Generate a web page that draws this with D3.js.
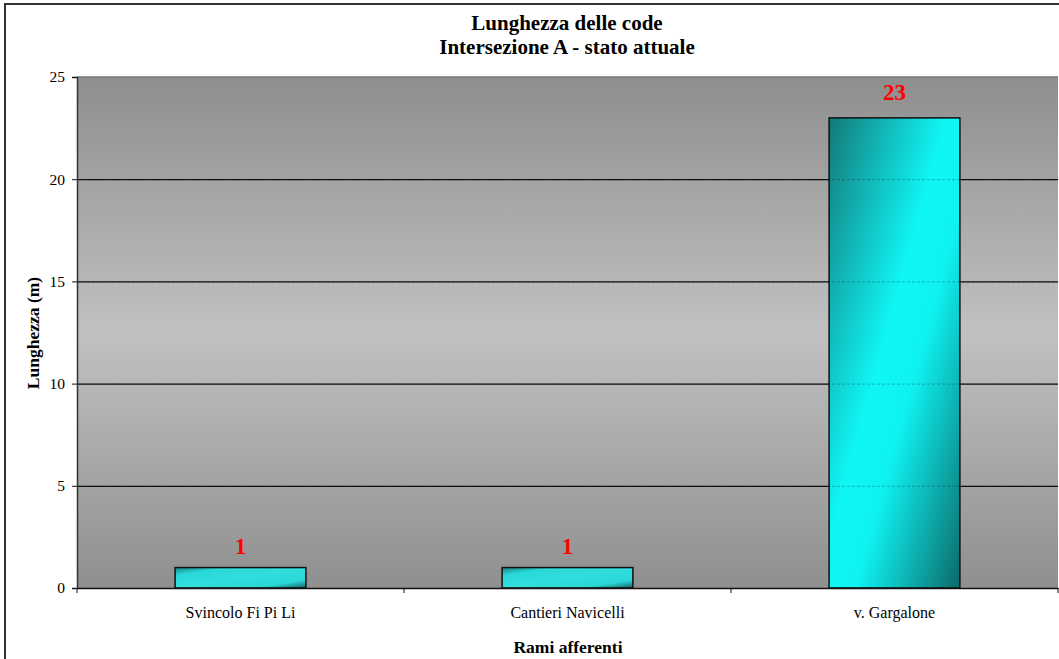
<!DOCTYPE html>
<html><head><meta charset="utf-8">
<script src="https://cdn.jsdelivr.net/npm/d3@7"></script>
<style>body{margin:0;background:#fff}svg{display:block}</style>
</head><body>
<svg id="chart" width="1059" height="659"></svg>
<script>
const categories = ["Svincolo Fi Pi Li", "Cantieri Navicelli", "v. Gargalone"];
const values = [1, 1, 23];
const yTicks = [0, 5, 10, 15, 20, 25];
const titleLines = ["Lunghezza delle code", "Intersezione A - stato attuale"];
const xTitle = "Rami afferenti";
const yTitle = "Lunghezza (m)";

const svg = d3.select("#chart");
const serif = "'Liberation Serif','Times New Roman',serif";
const m = {left: 77, right: 1058, top: 77, bottom: 588};

const defs = svg.append("defs");
const bg = defs.append("linearGradient").attr("id","bg").attr("x1",0).attr("y1",0).attr("x2",0).attr("y2",1);
[[0,"#8e8e8e"],[0.5,"#c1c1c1"],[1,"#8f8f8f"]].forEach(s=>bg.append("stop").attr("offset",s[0]).attr("stop-color",s[1]));
const bg2 = defs.append("linearGradient").attr("id","bar").attr("x1",0).attr("y1",0).attr("x2",1).attr("y2",1);
[[0,"#137878"],[0.45,"#10f6f6"],[0.6,"#0ff2f2"],[1,"#0c6a6a"]].forEach(s=>bg2.append("stop").attr("offset",s[0]).attr("stop-color",s[1]));
const bg3 = defs.append("linearGradient").attr("id","barSmall").attr("x1",0).attr("y1",0).attr("x2",1).attr("y2",1);
[[0,"#1a8080"],[0.2,"#2ad8d8"],[0.5,"#30dede"],[0.8,"#2ad6d6"],[1,"#145e5e"]].forEach(s=>bg3.append("stop").attr("offset",s[0]).attr("stop-color",s[1]));

// outer border
svg.append("rect").attr("x",5).attr("y",4).attr("width",1070).attr("height",670)
  .attr("fill","none").attr("stroke","#333").attr("stroke-width",2);

const x = d3.scaleBand().domain(categories).range([m.left, m.right]).paddingInner(0.6).paddingOuter(0.3);
const xb = d3.scaleBand().domain(categories).range([m.left, m.right]);
const y = d3.scaleLinear().domain([0,25]).range([m.bottom, m.top]);

svg.append("rect").attr("x",m.left).attr("y",m.top).attr("width",m.right-m.left).attr("height",m.bottom-m.top)
  .attr("fill","url(#bg)");
svg.append("line").attr("x1",m.left).attr("x2",m.right).attr("y1",m.top).attr("y2",m.top).attr("stroke","#777").attr("stroke-width",1.5);

// gridlines
svg.append("g").selectAll("line").data(yTicks.filter(t=>t>0&&t<25)).join("line")
  .attr("x1",m.left).attr("x2",m.right).attr("y1",d=>y(d)+0.5).attr("y2",d=>y(d)+0.5)
  .attr("stroke","#111").attr("stroke-width",1.2);

// bars
svg.append("g").selectAll("rect").data(values).join("rect")
  .attr("x",(d,i)=>x(categories[i])).attr("width",x.bandwidth())
  .attr("y",d=>y(d)).attr("height",d=>y(0)-y(d))
  .attr("fill",d=>d>5?"url(#bar)":"url(#barSmall)")
  .attr("stroke","#111").attr("stroke-width",1.5);

// faint gridlines visible through bars
svg.append("g").selectAll("line").data(yTicks.filter(t=>t>0&&t<25)).join("line")
  .attr("x1",m.left).attr("x2",m.right).attr("y1",d=>y(d)+0.5).attr("y2",d=>y(d)+0.5)
  .attr("stroke","#000").attr("stroke-opacity",0.25).attr("stroke-dasharray","3,2");

// y axis
const yAxis = svg.append("g").attr("transform",`translate(${m.left},0)`)
  .call(d3.axisLeft(y).tickValues(yTicks).tickSize(5).tickPadding(7));
yAxis.select(".domain").attr("stroke","#333").attr("stroke-width",1.5);
yAxis.selectAll(".tick line").attr("stroke","#111");
yAxis.selectAll("text").attr("font-family",serif).attr("font-size",15.5).attr("fill","#000");

// x axis
const xAxis = svg.append("g").attr("transform",`translate(0,${m.bottom})`)
  .call(d3.axisBottom(xb).tickSize(0));
xAxis.select(".domain").attr("stroke","#111").attr("stroke-width",1.5);
xAxis.selectAll("text").attr("font-family",serif).attr("font-size",16).attr("fill","#000")
  .attr("dy",null).attr("y",30);
const bounds = [m.left].concat(categories.map(c=>xb(c)+xb.bandwidth()));
svg.append("g").selectAll("line").data(bounds).join("line")
  .attr("x1",d=>d).attr("x2",d=>d).attr("y1",m.bottom).attr("y2",m.bottom+5).attr("stroke","#111");

// value labels
svg.append("g").selectAll("text").data(values).join("text")
  .attr("x",(d,i)=>x(categories[i])+x.bandwidth()/2).attr("y",d=>y(d)-(d>5?18:14))
  .attr("text-anchor","middle").attr("font-family",serif).attr("font-weight","bold")
  .attr("font-size",23).attr("fill","#ff0000").text(d=>d);

// titles
svg.append("g").selectAll("text").data(titleLines).join("text")
  .attr("x",567).attr("y",(d,i)=>30+i*24).attr("text-anchor","middle")
  .attr("font-family",serif).attr("font-weight","bold").attr("font-size",21).text(d=>d);
svg.append("text").attr("x",568).attr("y",653).attr("text-anchor","middle")
  .attr("font-family",serif).attr("font-weight","bold").attr("font-size",17.5).text(xTitle);
svg.append("text").attr("transform","translate(39,333) rotate(-90)").attr("text-anchor","middle")
  .attr("font-family",serif).attr("font-weight","bold").attr("font-size",17.5).text(yTitle);
</script>
</body></html>
